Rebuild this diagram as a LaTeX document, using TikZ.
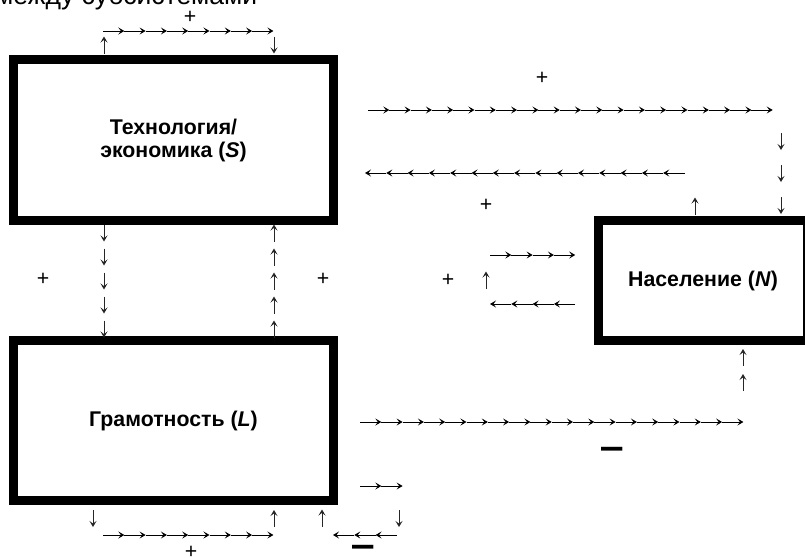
\documentclass[tikz,border=0pt]{standalone}
\usepackage{fontspec}
\setmainfont{Liberation Sans}
\usetikzlibrary{arrows.meta}
\begin{document}
\begin{tikzpicture}[x=1pt,y=-1pt,
  box/.style={draw, line width=9pt, inner sep=0pt, align=center,
    font=\fontsize{21.3}{23}\selectfont\bfseries},
  arr/.style={line width=0.95pt, -{Stealth[length=6pt,width=7pt,inset=2.6pt]}},
  varr/.style={arr, black!85},
  sgn/.style={inner sep=0pt, font=\fontsize{21.3}{24}\selectfont},
  neg/.style={inner sep=0pt, font=\fontsize{21.3}{24}\selectfont\bfseries},
]
\useasboundingbox (0,0) rectangle (805,557);
\def\w{21.3}
% right-pointing row: x0, y, count
\newcommand\rrow[3]{\foreach \i in {1,...,#3}{\draw[arr] ({#1+(\i-1)*\w},#2) -- ++(\w,0);}}
% left-pointing row: x0 (left end), y, count
\newcommand\lrow[3]{\foreach \i in {1,...,#3}{\draw[arr] ({#1+\i*\w},#2) -- ++(-\w,0);}}
% single vertical arrows centred at (x,y)
\newcommand\uarr[2]{\draw[varr] (#1,{#2+8.5}) -- (#1,{#2-8.5});}
\newcommand\darr[2]{\draw[varr] (#1,{#2-8.5}) -- (#1,{#2+8.5});}
% title (cut at top)
\node (title) [anchor=base west, inner sep=0pt, font=\fontsize{26.5}{29}\selectfont] at (-5,4.5) {между субсистемами};
% boxes
\node (S) [box, minimum width=320pt, minimum height=161pt] at (173.5,140) {Технология/\\экономика (\textit{S})};
\node (L) [box, minimum width=320pt, minimum height=160pt] at (173.5,420.5) {Грамотность (\textit{L})};
\node (N) [box, minimum width=209pt, minimum height=120pt] at (703,280.5) {Население (\textit{N})};
% horizontal arrow rows
\rrow{103}{31}{8}
\rrow{368}{110}{19}
\lrow{365}{173}{15}
\rrow{490}{255}{4}
\lrow{490}{304}{4}
\rrow{360}{422}{18}
\rrow{103}{535}{8}
\rrow{360}{486}{2}
\lrow{333}{535}{3}
% vertical arrows
\uarr{104}{45}
\darr{274}{45}
\foreach \i in {0,...,4}{
  \darr{104}{233+24*\i}
  \uarr{274}{233+24*\i}
}
\darr{781}{141.5}
\darr{781}{173.5}
\darr{781}{205.5}
\uarr{695}{206}
\uarr{486}{280}
\uarr{743}{357.5}
\uarr{743}{382.5}
\darr{93}{518.5}
\uarr{274}{518.5}
\uarr{322}{518}
\darr{399}{518.5}
% signs
\node (p1) [sgn] at (190,17) {+};
\node (p2) [sgn] at (542,78) {+};
\node (p3) [sgn] at (486,205) {+};
\node (p4) [sgn] at (43,279) {+};
\node (p5) [sgn] at (323,279) {+};
\node (p6) [sgn] at (448,280) {+};
\node (p7) [sgn] at (191,552) {+};
\node (m1) [neg] at (612,453.5) {\scalebox{1}[1.8]{—}};
\node (m2) [neg] at (363.3,551.5) {\scalebox{1}[1.8]{—}};
\end{tikzpicture}
\end{document}
